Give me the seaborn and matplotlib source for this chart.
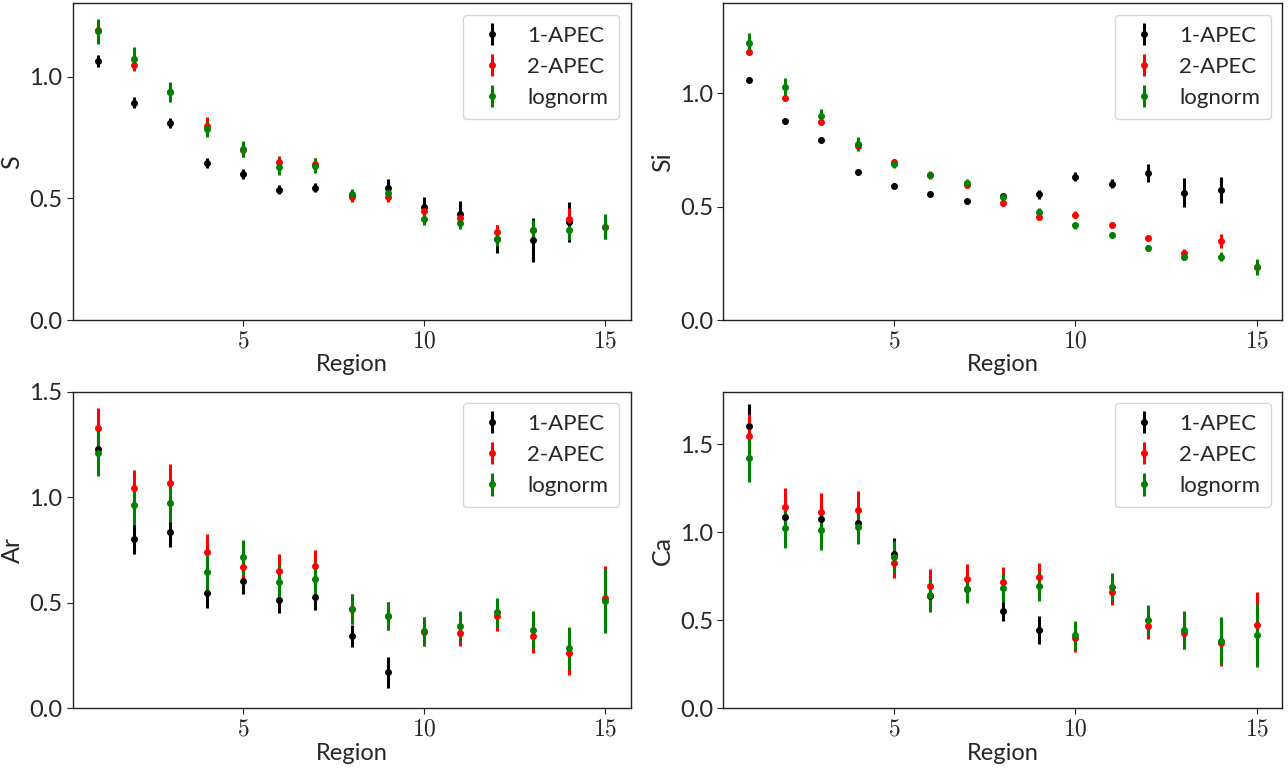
import numpy as np
import matplotlib
matplotlib.use('Agg')
import matplotlib.pyplot as plt
import seaborn as sns
from matplotlib.ticker import FuncFormatter, MultipleLocator

# abundances per region for the three spectral models
regions_15 = np.arange(1, 16)
regions_14 = np.arange(1, 15)
regions_9 = np.arange(1, 10)

S_1apec = [1.064, 0.892, 0.810, 0.645, 0.600, 0.536, 0.544, 0.510, 0.544, 0.466, 0.437, 0.332, 0.329, 0.404]
S_1apec_err = [0.026, 0.022, 0.020, 0.020, 0.020, 0.020, 0.020, 0.015, 0.034, 0.040, 0.050, 0.057, 0.090, 0.082]
S_2apec = [1.192, 1.048, 0.937, 0.797, 0.699, 0.648, 0.640, 0.504, 0.504, 0.447, 0.419, 0.363, 0.371, 0.415, 0.383]
S_2apec_err = [0.040, 0.024, 0.030, 0.036, 0.030, 0.026, 0.026, 0.020, 0.020, 0.025, 0.025, 0.027, 0.035, 0.045, 0.050]
S_lognorm = [1.185, 1.074, 0.937, 0.785, 0.703, 0.630, 0.634, 0.519, 0.522, 0.415, 0.400, 0.334, 0.369, 0.370, 0.383]
S_lognorm_err = [0.050, 0.046, 0.041, 0.034, 0.034, 0.036, 0.030, 0.020, 0.025, 0.025, 0.025, 0.030, 0.040, 0.040, 0.052]

Si_1apec = [1.060, 0.875, 0.795, 0.652, 0.592, 0.557, 0.523, 0.545, 0.555, 0.632, 0.601, 0.649, 0.562, 0.573]
Si_1apec_err = [0.010, 0.010, 0.010, 0.010, 0.010, 0.010, 0.010, 0.010, 0.020, 0.020, 0.020, 0.039, 0.062, 0.059]
Si_2apec = [1.182, 0.977, 0.873, 0.766, 0.695, 0.637, 0.593, 0.514, 0.453, 0.464, 0.418, 0.361, 0.297, 0.349, 0.235]
Si_2apec_err = [0.015, 0.012, 0.012, 0.015, 0.012, 0.012, 0.012, 0.010, 0.012, 0.015, 0.010, 0.012, 0.015, 0.030, 0.030]
Si_lognorm = [1.222, 1.028, 0.898, 0.777, 0.689, 0.640, 0.604, 0.542, 0.474, 0.417, 0.375, 0.317, 0.278, 0.278, 0.235]
Si_lognorm_err = [0.044, 0.039, 0.030, 0.030, 0.020, 0.018, 0.018, 0.015, 0.020, 0.015, 0.015, 0.012, 0.015, 0.020, 0.035]

Ar_1apec = [1.229, 0.801, 0.837, 0.545, 0.605, 0.515, 0.526, 0.344, 0.171]
Ar_1apec_err = [0.070, 0.071, 0.075, 0.069, 0.062, 0.062, 0.060, 0.053, 0.073]
Ar_2apec = [1.330, 1.043, 1.068, 0.739, 0.671, 0.652, 0.676, 0.471, 0.439, 0.363, 0.358, 0.437, 0.343, 0.264, 0.523]
Ar_2apec_err = [0.092, 0.084, 0.089, 0.085, 0.070, 0.079, 0.074, 0.070, 0.067, 0.069, 0.063, 0.070, 0.079, 0.105, 0.152]
Ar_lognorm = [1.211, 0.965, 0.972, 0.646, 0.716, 0.597, 0.613, 0.470, 0.439, 0.366, 0.389, 0.455, 0.373, 0.284, 0.507]
Ar_lognorm_err = [0.110, 0.090, 0.090, 0.090, 0.082, 0.080, 0.080, 0.070, 0.067, 0.069, 0.070, 0.070, 0.088, 0.100, 0.152]

Ca_1apec = [1.606, 1.089, 1.076, 1.051, 0.877, 0.640, 0.680, 0.555, 0.445]
Ca_1apec_err = [0.123, 0.080, 0.080, 0.080, 0.089, 0.070, 0.070, 0.060, 0.080]
Ca_2apec = [1.549, 1.146, 1.115, 1.128, 0.826, 0.695, 0.733, 0.720, 0.748, 0.401, 0.659, 0.466, 0.430, 0.369, 0.473]
Ca_2apec_err = [0.127, 0.108, 0.110, 0.106, 0.087, 0.095, 0.090, 0.081, 0.076, 0.080, 0.072, 0.070, 0.095, 0.129, 0.188]
Ca_lognorm = [1.424, 1.028, 1.013, 1.032, 0.862, 0.642, 0.678, 0.682, 0.695, 0.415, 0.689, 0.500, 0.447, 0.384, 0.416]
Ca_lognorm_err = [0.136, 0.119, 0.110, 0.100, 0.090, 0.093, 0.081, 0.080, 0.083, 0.083, 0.081, 0.087, 0.108, 0.133, 0.180]

panels = [
    ('S', regions_14, S_1apec, S_1apec_err, S_2apec, S_2apec_err, S_lognorm, S_lognorm_err, 1.30),
    ('Si', regions_14, Si_1apec, Si_1apec_err, Si_2apec, Si_2apec_err, Si_lognorm, Si_lognorm_err, 1.395),
    ('Ar', regions_9, Ar_1apec, Ar_1apec_err, Ar_2apec, Ar_2apec_err, Ar_lognorm, Ar_lognorm_err, 1.5),
    ('Ca', regions_9, Ca_1apec, Ca_1apec_err, Ca_2apec, Ca_2apec_err, Ca_lognorm, Ca_lognorm_err, 1.8),
]

sns.set_style('white', {'axes.edgecolor': '#222222'})
plt.rcParams['font.family'] = ['Lato', 'DejaVu Sans']
plt.rcParams['mathtext.fontset'] = 'cm'

fig = plt.figure(figsize=(12.88, 7.76), dpi=100)
positions = [[0.0564, 0.5876, 0.4332, 0.4079], [0.5616, 0.5876, 0.4340, 0.4079],
             [0.0564, 0.0872, 0.4332, 0.4080], [0.5616, 0.0872, 0.4340, 0.4080]]

for pos, (name, reg1, v1, e1, v2, e2, v3, e3, ytop) in zip(positions, panels):
    ax = fig.add_axes(pos)
    ax.errorbar(reg1, v1, yerr=e1, fmt='o', color='k', ms=4, elinewidth=2.2, label='1-APEC')
    ax.errorbar(regions_15, v2, yerr=e2, fmt='o', color='r', ms=4, elinewidth=2.2, label='2-APEC')
    ax.errorbar(regions_15, v3, yerr=e3, fmt='o', color='g', ms=4, elinewidth=2.2, label='lognorm')
    ax.set_ylim(0, ytop)
    ax.set_xlim(0.3, 15.7)
    ax.xaxis.set_major_locator(MultipleLocator(5))
    ax.yaxis.set_major_locator(MultipleLocator(0.5))
    ax.xaxis.set_major_formatter(FuncFormatter(lambda v, p: f'${v:.0f}$'))
    ax.yaxis.set_major_formatter(FuncFormatter(lambda v, p: f'{v:.1f}'))
    ax.tick_params(axis='both', which='major', labelsize=17, length=4, width=0.8, color='#222222',
                   bottom=True, left=True)
    for sp in ax.spines.values():
        sp.set_linewidth(1.0)
    ax.set_xlabel('Region', fontsize=17, labelpad=2)
    ax.set_ylabel(name, fontsize=18)
    ax.legend(loc='upper right', fontsize=16, handlelength=1.6, borderpad=0.5, labelspacing=0.5)

plt.savefig('out.png', dpi=100)
